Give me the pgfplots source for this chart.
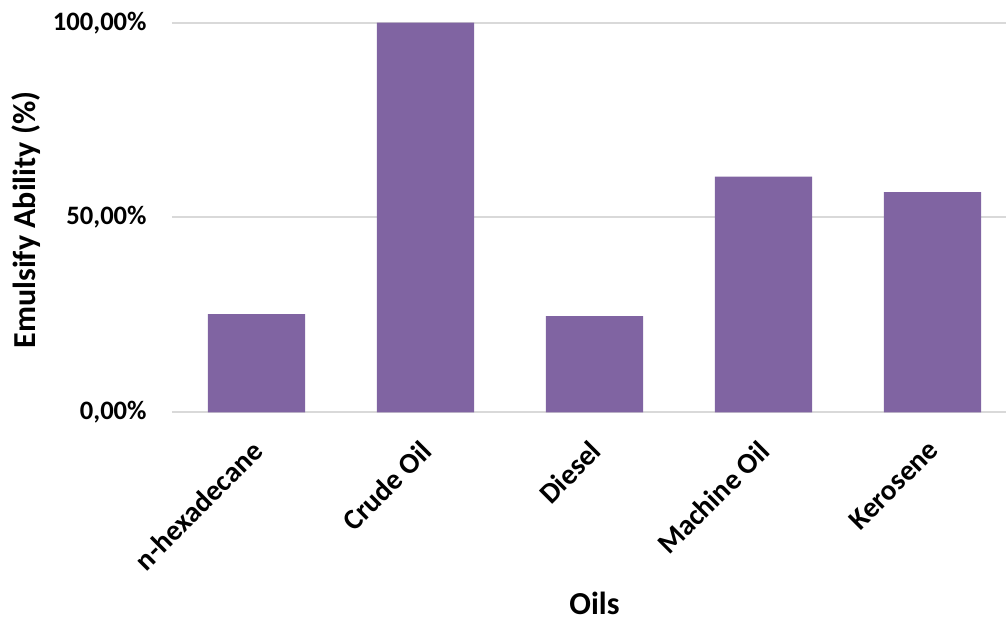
\documentclass[border=0pt]{standalone}
\usepackage{fontspec}
\setmainfont{Carlito}
\usepackage{pgfplots}
\pgfplotsset{compat=1.18}
\definecolor{barpurple}{HTML}{8064A2}
\definecolor{gridgray}{HTML}{D9D9D9}
\begin{document}
\begin{tikzpicture}
\begin{axis}[
  scale only axis, width=417pt, height=194.8pt,
  xmin=-0.5, xmax=4.435, ymin=0, ymax=100,
  axis line style={draw=none},
  major tick length=0pt,
  xtick={0,1,2,3,4},
  xticklabels={n-hexadecane, Crude Oil, Diesel, Machine Oil, Kerosene},
  ytick={0,50,100},
  yticklabels={{0,00\%},{50,00\%},{100,00\%}},
  ymajorgrids, grid style={gridgray, line width=1pt},
  yticklabel style={font=\fontsize{13.3}{16}\selectfont\bfseries,
    anchor=east, inner sep=0pt, xshift=-12.5pt},
  xticklabel style={font=\fontsize{14.5}{17}\selectfont\bfseries,
    xshift=-3pt, yshift=-13pt, rotate=45, anchor=north east, inner sep=0pt},
  label style={font=\fontsize{16}{19}\selectfont\bfseries},
  ybar, bar width=0.574,
  xlabel={Oils}, ylabel={Emulsify Ability (\%)},
  xlabel style={at={([yshift=-95.5pt]axis cs:2,0)}, anchor=center},
  ylabel style={at={([xshift=-73pt, yshift=-1.25pt]rel axis cs:0,0.5)}, anchor=center},
]
\addplot[fill=barpurple, draw=none] coordinates {(0,25.2) (1,100) (2,24.7) (3,60.5) (4,56.5)};
\coordinate (bbsw) at ([xshift=-86pt, yshift=-103.35pt]rel axis cs:0,0);
\coordinate (bbne) at ([yshift=11.35pt]rel axis cs:1,1);
\end{axis}
\pgfresetboundingbox
\path[use as bounding box] (bbsw) rectangle (bbne);
\end{tikzpicture}
\end{document}
